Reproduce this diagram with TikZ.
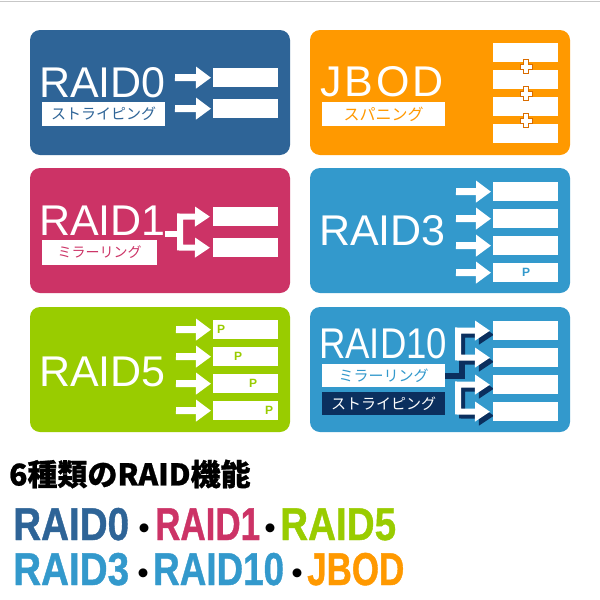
\documentclass[tikz,border=0pt]{standalone}
\usepackage{fontspec}
\usepackage{graphicx}
\setmainfont{Liberation Sans}
\newfontfamily\cjk{Noto Sans CJK JP}
\newfontfamily\cjkheavy[BoldFeatures={FakeBold=0.8}]{Noto Sans CJK JP}
\newfontfamily\heavy[FakeBold=1.0]{Liberation Sans Bold}
\usetikzlibrary{arrows.meta}
\definecolor{steel}{HTML}{2E6497}
\definecolor{jorange}{HTML}{FF9900}
\definecolor{rasp}{HTML}{CC3366}
\definecolor{sky}{HTML}{3399CC}
\definecolor{lime}{HTML}{99CC00}
\definecolor{navy}{HTML}{0B2F5E}
\begin{document}
\begin{tikzpicture}[x=1pt,y=-1pt,
  panel/.style={minimum width=260pt,minimum height=125pt,rounded corners=10pt,inner sep=0pt,draw=none},
  disk/.style={fill=white,minimum width=65pt,minimum height=19pt,inner sep=0pt,anchor=north west},
  title/.style={text=white,anchor=base west,inner sep=0pt,font=\fontsize{43}{43}\selectfont},
  tag/.style={fill=white,minimum width=123pt,minimum height=24pt,inner sep=0pt,font=\cjk\fontsize{15}{15}\selectfont},
  arr/.style={white,line width=7pt,-{Triangle[length=15pt,width=21pt]},shorten >=2pt},
  pbit/.style={inner sep=0pt,font=\bfseries\fontsize{12}{12}\selectfont},
  bracket/.style={line width=6pt,line join=miter,{Triangle[length=15pt,width=19pt]}-{Triangle[length=15pt,width=19pt]},shorten <=3pt,shorten >=3pt},
  big/.style={anchor=base west,inner sep=0pt,font=\heavy\fontsize{46}{46}\selectfont},
  sepdot/.style={inner sep=0pt,font=\cjk\bfseries\fontsize{32}{32}\selectfont},
  plussign/.pic={\filldraw[fill=white,draw=orange!85!black,line width=0.8pt]
    (-2.5,-7) -- (2.5,-7) -- (2.5,-2.5) -- (6,-2.5) -- (6,2.5) -- (2.5,2.5) -- (2.5,7)
    -- (-2.5,7) -- (-2.5,2.5) -- (-6,2.5) -- (-6,-2.5) -- (-2.5,-2.5) -- cycle;}
]
\useasboundingbox (0,0) rectangle (600,600);
\fill[white] (0,0) rectangle (600,600);
\draw[black!22,line width=1pt] (0,1.5) -- (600,1.5);

% panels
\node[panel,fill=steel]   (p0)  at (160,92.5)  {};
\node[panel,fill=jorange] (pJ)  at (440,92.5)  {};
\node[panel,fill=rasp]    (p1)  at (160,230.5) {};
\node[panel,fill=sky]     (p3)  at (440,230.5) {};
\node[panel,fill=lime]    (p5)  at (160,369.5) {};
\node[panel,fill=sky]     (p10) at (440,369.5) {};

% ---------- RAID0
\node[title] (t0) at (39,97) {RAID0};
\node[tag,text=steel] (g0) at (103.5,114) {ストライピング};
\node[disk] (r01) at (213,68) {};
\node[disk] (r02) at (213,99) {};
\coordinate (a01) at (175,77.5);
\coordinate (a02) at (175,108.5);
\draw[arr] (a01) -- (r01.west);
\draw[arr] (a02) -- (r02.west);

% ---------- JBOD
\node[title] (tJ) at (320,96) {J\kern3pt B\kern3pt O\kern3pt D};
\node[tag,text=jorange,font=\cjk\fontsize{16}{16}\selectfont] (gJ) at (383.5,114) {スパニング};
\node[disk] (rj1) at (493,43) {};
\node[disk] (rj2) at (493,70) {};
\node[disk] (rj3) at (493,97) {};
\node[disk] (rj4) at (493,124) {};
\pic at (526,66.5) {plussign};
\pic at (526,93.5) {plussign};
\pic at (526,120.5) {plussign};

% ---------- RAID1
\node[title] (t1) at (39,235) {RAID1};
\node[tag,text=rasp,minimum width=115pt,minimum height=25pt,font=\cjk\fontsize{14}{14}\selectfont] (g1) at (99.5,252.5) {ミラーリング};
\node[disk] (r11) at (213,207) {};
\node[disk] (r12) at (213,238) {};
\coordinate (c1) at (165,233.5);
\coordinate (c1v) at (180,233.5);
\draw[white,line width=6pt] (c1) -- (c1v);
\draw[bracket,white] (r11.west) -- (180,216.5) -- (180,247.5) -- (r12.west);

% ---------- RAID3
\node[title] (t3) at (319,245) {RAID3};
\foreach \i/\y in {1/182,2/209,3/236,4/263}{
  \node[disk] (r3\i) at (493,\y) {};
  \coordinate (a3\i) at (456,\y+9.5);
  \draw[arr] (a3\i) -- (r3\i.west);
}
\node[pbit,text=sky] (p3p) at (526,272) {P};

% ---------- RAID5
\node[title] (t5) at (39,386) {RAID5};
\foreach \i/\y in {1/320,2/347,3/374,4/401}{
  \node[disk] (r5\i) at (213,\y) {};
  \coordinate (a5\i) at (176,\y+9.5);
  \draw[arr] (a5\i) -- (r5\i.west);
}
\node[pbit,text=lime] (p51) at (221,329) {P};
\node[pbit,text=lime] (p52) at (238,356) {P};
\node[pbit,text=lime] (p53) at (253,383) {P};
\node[pbit,text=lime] (p54) at (269,410) {P};

% ---------- RAID10
\node[title] (t10) at (319,358) {\scalebox{0.85}[1]{RAID10}};
\node[tag,text=sky,minimum height=23pt] (m10) at (383.5,375.5) {ミラーリング};
\node[tag,fill=navy,text=white,minimum height=23pt] (s10) at (383.5,403.5) {ストライピング};
\node[disk] (r61) at (493,321) {};
\node[disk] (r62) at (493,348) {};
\node[disk] (r63) at (493,375) {};
\node[disk] (r64) at (493,402) {};
\begin{scope}[transform canvas={xshift=4pt,yshift=-4pt}]
  \draw[bracket,navy] (r61.west) -- (458,330.5) -- (458,357.5) -- (r62.west);
  \draw[bracket,navy] (r63.west) -- (458,384.5) -- (458,411.5) -- (r64.west);
\end{scope}
\coordinate (k10) at (462,375.5);
\coordinate (k10t) at (462,345);
\draw[navy,line width=6pt,line join=miter] (m10.east) -- (k10) -- (k10t);
\draw[bracket,white] (r61.west) -- (458,330.5) -- (458,357.5) -- (r62.west);
\draw[bracket,white] (r63.west) -- (458,384.5) -- (458,411.5) -- (r64.west);
\node[disk] at (493,321) {};
\node[disk] at (493,348) {};
\node[disk] at (493,375) {};
\node[disk] at (493,402) {};

% ---------- bottom texts
\node[anchor=west,inner sep=0pt,font=\cjkheavy\bfseries\fontsize{30}{30}\selectfont] (hd) at (9,474) {6種類のRAID機能};

\node[big,text=steel] (b0) at (13,540) {\scalebox{0.84}[1]{RAID0}};
\node[sepdot] (d1) at (144,532) {\makebox[8pt][c]{・}};
\node[big,text=rasp] (b1) at (155,540) {\scalebox{0.76}[1]{RAID1}};
\node[sepdot] (d2) at (270,532) {\makebox[8pt][c]{・}};
\node[big,text=lime] (b5) at (280,540) {\scalebox{0.84}[1]{RAID5}};

\node[big,text=sky] (b3) at (13,585) {\scalebox{0.84}[1]{RAID3}};
\node[sepdot] (d3) at (143,577) {\makebox[8pt][c]{・}};
\node[big,text=sky] (b10) at (153,585) {\scalebox{0.8}[1]{RAID10}};
\node[sepdot] (d4) at (297,577) {\makebox[8pt][c]{・}};
\node[big,text=jorange] (bJ) at (307,585) {\scalebox{0.76}[1]{JBOD}};
\end{tikzpicture}
\end{document}
